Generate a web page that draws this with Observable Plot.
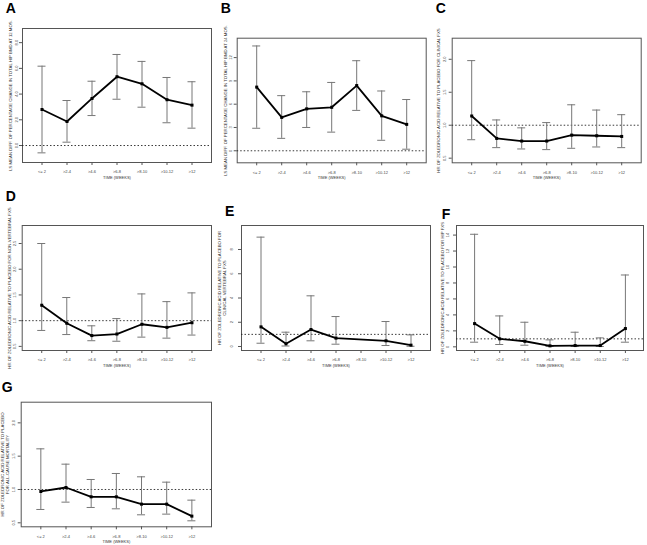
<!DOCTYPE html>
<html>
<head>
<meta charset="utf-8">
<script src="https://cdn.jsdelivr.net/npm/d3@7"></script>
<script src="https://cdn.jsdelivr.net/npm/@observablehq/plot@0.6"></script>
<style>
  html, body { margin: 0; padding: 0; background: #fff; }
  #root { position: relative; width: 647px; height: 545px; overflow: hidden; font-family: "Liberation Sans", Arial, sans-serif; }
  .panel { position: absolute; }
  .panel svg text { font-family: "Liberation Sans", Arial, sans-serif; }
  .letter { position: absolute; font-weight: bold; font-size: 14px; line-height: 14px; color: #000; }
</style>
</head>
<body>
<div id="root"></div>
<script>
// ---- data ----
const weeks = ["<= 2", ">2-4", ">4-6", ">6-8", ">8-10", ">10-12", ">12"];

const aEst = [2.8, 1.87, 3.66, 5.35, 4.8, 3.56, 3.14];
const aLo  = [-0.57, 0.26, 2.33, 3.6, 2.98, 1.77, 1.35];
const aHi  = [6.17, 3.5, 5.0, 7.08, 6.54, 5.29, 4.96];
const aTicks = [0, 2, 4, 6, 8];

const bEst = [8.2, 4.3, 5.4, 5.6, 8.4, 4.5, 3.4];
const bLo  = [2.9, 1.6, 3.0, 2.4, 5.2, 1.35, 0.2];
const bHi  = [13.5, 7.1, 7.6, 8.8, 11.6, 7.7, 6.6];
const bTicks = [0, 3, 6, 9, 12];

const cEst = [1.14, 0.80, 0.76, 0.76, 0.85, 0.84, 0.83];
const cLo  = [0.78, 0.66, 0.64, 0.63, 0.65, 0.67, 0.66];
const cHi  = [1.98, 1.08, 0.96, 1.04, 1.31, 1.23, 1.16];
const cTicks = [0.5, 1.0, 1.5, 2.0];

const dEst = [1.30, 0.95, 0.71, 0.74, 0.93, 0.87, 0.96];
const dLo  = [0.81, 0.73, 0.61, 0.60, 0.68, 0.66, 0.72];
const dHi  = [2.50, 1.45, 0.90, 1.04, 1.52, 1.37, 1.54];
const dTicks = [0.5, 1.0, 1.5, 2.0, 2.5];

const eEst = [1.62, 0.22, 1.40, 0.69, null, 0.47, 0.11];
const eLo  = [0.27, 0.04, 0.47, 0.19, null, 0.08, 0.02];
const eHi  = [9.02, 1.18, 4.18, 2.47, null, 2.06, 0.96];
const eTicks = [0, 2, 4, 6, 8];

const fEst = [2.91, 1.0, 0.70, 0.12, 0.16, 0.16, 2.29];
const fLo  = [0.58, 0.29, 0.20, 0.04, 0.04, 0.04, 0.58];
const fHi  = [14.1, 3.87, 3.08, 0.87, 1.83, 1.12, 9.0];
const fTicks = [0, 2, 4, 6, 8, 10, 12, 14];

const gEst = [0.97, 1.03, 0.89, 0.89, 0.78, 0.78, 0.60];
const gLo  = [0.70, 0.81, 0.73, 0.71, 0.62, 0.63, 0.53];
const gHi  = [1.61, 1.38, 1.15, 1.24, 1.19, 1.11, 0.84];
const gTicks = [0.5, 1.0, 1.5, 2.0];

const titles = {
  A: ["LS MEAN DIFF. OF PERCENTAGE CHANGE IN TOTAL HIP BMD AT 12 MOS."],
  B: ["LS MEAN DIFF. OF PERCENTAGE CHANGE IN TOTAL HIP BMD AT 24 MOS."],
  C: ["HR OF ZOLEDRONIC ACID RELATIVE TO PLACEBO FOR CLINICAL FXS"],
  D: ["HR OF ZOLEDRONIC ACID RELATIVE TO PLACEBO FOR NON-VERTEBRAL FXS"],
  E: ["HR OF ZOLEDRONIC ACID RELATIVE TO PLACEBO FOR", "CLINICAL VERTEBRAL FXS"],
  F: ["HR OF ZOLEDRONIC ACID RELATIVE TO PLACEBO FOR HIP FXS"],
  G: ["HR OF ZOLEDRONIC ACID RELATIVE TO PLACEBO", "FOR ALL-CAUSE MORTALITY"]
};

// ---- layout config ----
const f1 = d3.format(".1f");
const f0 = d3.format("d");
const panels = [
  {id: "A", est: aEst, lo: aLo, hi: aHi, ticks: aTicks, fmt: f1, ref: 0, domain: [-1.32, 9.1],
   left: 0, top: 0, w: 215, h: 182, mL: 22, mR: 4, mT: 28, mB: 20, pad: 0.78, letter: [5.7, 2.7], tdx: [-12], kdx: -6},
  {id: "B", est: bEst, lo: bLo, hi: bHi, ticks: bTicks, fmt: f0, ref: 0, domain: [-1.55, 14.5],
   left: 215, top: 0, w: 215, h: 182, mL: 21.7, mR: 4.3, mT: 37.7, mB: 19.7, pad: 0.78, letter: [220.7, 2.5], tdx: [-12], kdx: -6},
  {id: "C", est: cEst, lo: cLo, hi: cHi, ticks: cTicks, fmt: f1, ref: 1, domain: [0.43, 2.32],
   left: 430, top: 0, w: 217, h: 182, mL: 21.7, mR: 6.3, mT: 37.7, mB: 19.7, pad: 0.78, letter: [435.7, 2.7], tdx: [-14], kdx: -7},
  {id: "D", est: dEst, lo: dLo, hi: dHi, ticks: dTicks, fmt: f1, ref: 1, domain: [0.42, 2.85],
   left: 0, top: 185, w: 215, h: 185, mL: 21.7, mR: 4, mT: 40, mB: 20, pad: 0.78, letter: [5.7, 190.7], tdx: [-13], kdx: -7},
  {id: "E", est: eEst, lo: eLo, hi: eHi, ticks: eTicks, fmt: f0, ref: 1, domain: [-0.33, 9.98],
   left: 215, top: 185, w: 217, h: 185, mL: 26, mR: 2, mT: 40, mB: 20, pad: 0.78, letter: [225, 206], tdx: [-22, -17.3], kdx: -10},
  {id: "F", est: fEst, lo: fLo, hi: fHi, ticks: fTicks, fmt: f0, ref: 1, domain: [-0.46, 15.2],
   left: 430, top: 185, w: 217, h: 185, mL: 26, mR: 4, mT: 40, mB: 20, pad: 0.72, letter: [441.7, 209], tdx: [-14], kdx: -9},
  {id: "G", est: gEst, lo: gLo, hi: gHi, ticks: gTicks, fmt: f1, ref: 1, domain: [0.44, 2.31],
   left: 0, top: 365, w: 215, h: 180, mL: 20.7, mR: 4, mT: 36.7, mB: 18.7, pad: 0.78, letter: [1.7, 381.7], tdx: [-18.5, -13.8], kdx: -7}
];

const root = document.getElementById("root");
const FONT = "Liberation Sans, Arial, sans-serif";
const FS = 4;
const TFS = 4.3;
const CAP = 0.16;

for (const p of panels) {
  const rows = weeks.map((w, i) => ({i, w, est: p.est[i], lo: p.lo[i], hi: p.hi[i]}))
                    .filter(r => r.est != null);
  const marks = [
    Plot.frame({stroke: "#555", strokeWidth: 1}),
    Plot.ruleY([p.ref], {stroke: "#222", strokeWidth: 0.9, strokeDasharray: "1.5,2"}),
    Plot.ruleX(rows, {x: "i", y1: "lo", y2: "hi", stroke: "#777", strokeWidth: 1}),
    Plot.ruleY(rows, {y: "lo", x1: d => d.i - CAP, x2: d => d.i + CAP, stroke: "#777", strokeWidth: 1}),
    Plot.ruleY(rows, {y: "hi", x1: d => d.i - CAP, x2: d => d.i + CAP, stroke: "#777", strokeWidth: 1}),
    Plot.line(rows, {x: "i", y: "est", stroke: "#000", strokeWidth: 1.8}),
    Plot.dot(rows, {x: "i", y: "est", symbol: "square", r: 1.7, fill: "#000", stroke: null}),
    Plot.axisX({ticks: d3.range(weeks.length), tickFormat: i => weeks[i], tickSize: 3, tickPadding: 5,
                fontSize: FS, fontFamily: FONT, label: null, stroke: "#555", fill: "#444"}),
    Plot.axisY({ticks: p.ticks, tickFormat: () => "", tickSize: 3, label: null, stroke: "#555"}),
    Plot.text(p.ticks, {y: d => d, text: d => p.fmt(d), frameAnchor: "left", textAnchor: "middle",
                        dx: p.kdx, rotate: -90, fontSize: FS, fontFamily: FONT, fill: "#444"}),
    Plot.text(["TIME (WEEKS)"], {text: d => d, frameAnchor: "bottom", dy: 16, fontSize: FS,
                                 fontFamily: FONT, fill: "#333"})
  ];
  titles[p.id].forEach((t, k) => {
    marks.push(Plot.text([t], {text: d => d, frameAnchor: "left", textAnchor: "middle", dx: p.tdx[k],
                               rotate: -90, fontSize: TFS, fontFamily: FONT, fill: "#333"}));
  });
  const svg = Plot.plot({
    width: p.w, height: p.h,
    marginLeft: p.mL, marginRight: p.mR, marginTop: p.mT, marginBottom: p.mB,
    style: {background: "transparent", overflow: "visible", fontFamily: FONT},
    x: {type: "linear", domain: [-p.pad, weeks.length - 1 + p.pad], axis: null},
    y: {type: "linear", domain: p.domain, axis: null},
    marks
  });
  const holder = document.createElement("div");
  holder.className = "panel";
  holder.style.left = p.left + "px";
  holder.style.top = p.top + "px";
  holder.appendChild(svg);
  root.appendChild(holder);

  const L = document.createElement("div");
  L.className = "letter";
  L.textContent = p.id;
  L.style.left = p.letter[0] + "px";
  L.style.top = (p.letter[1] - 1.9) + "px";
  root.appendChild(L);
}
</script>
</body>
</html>
